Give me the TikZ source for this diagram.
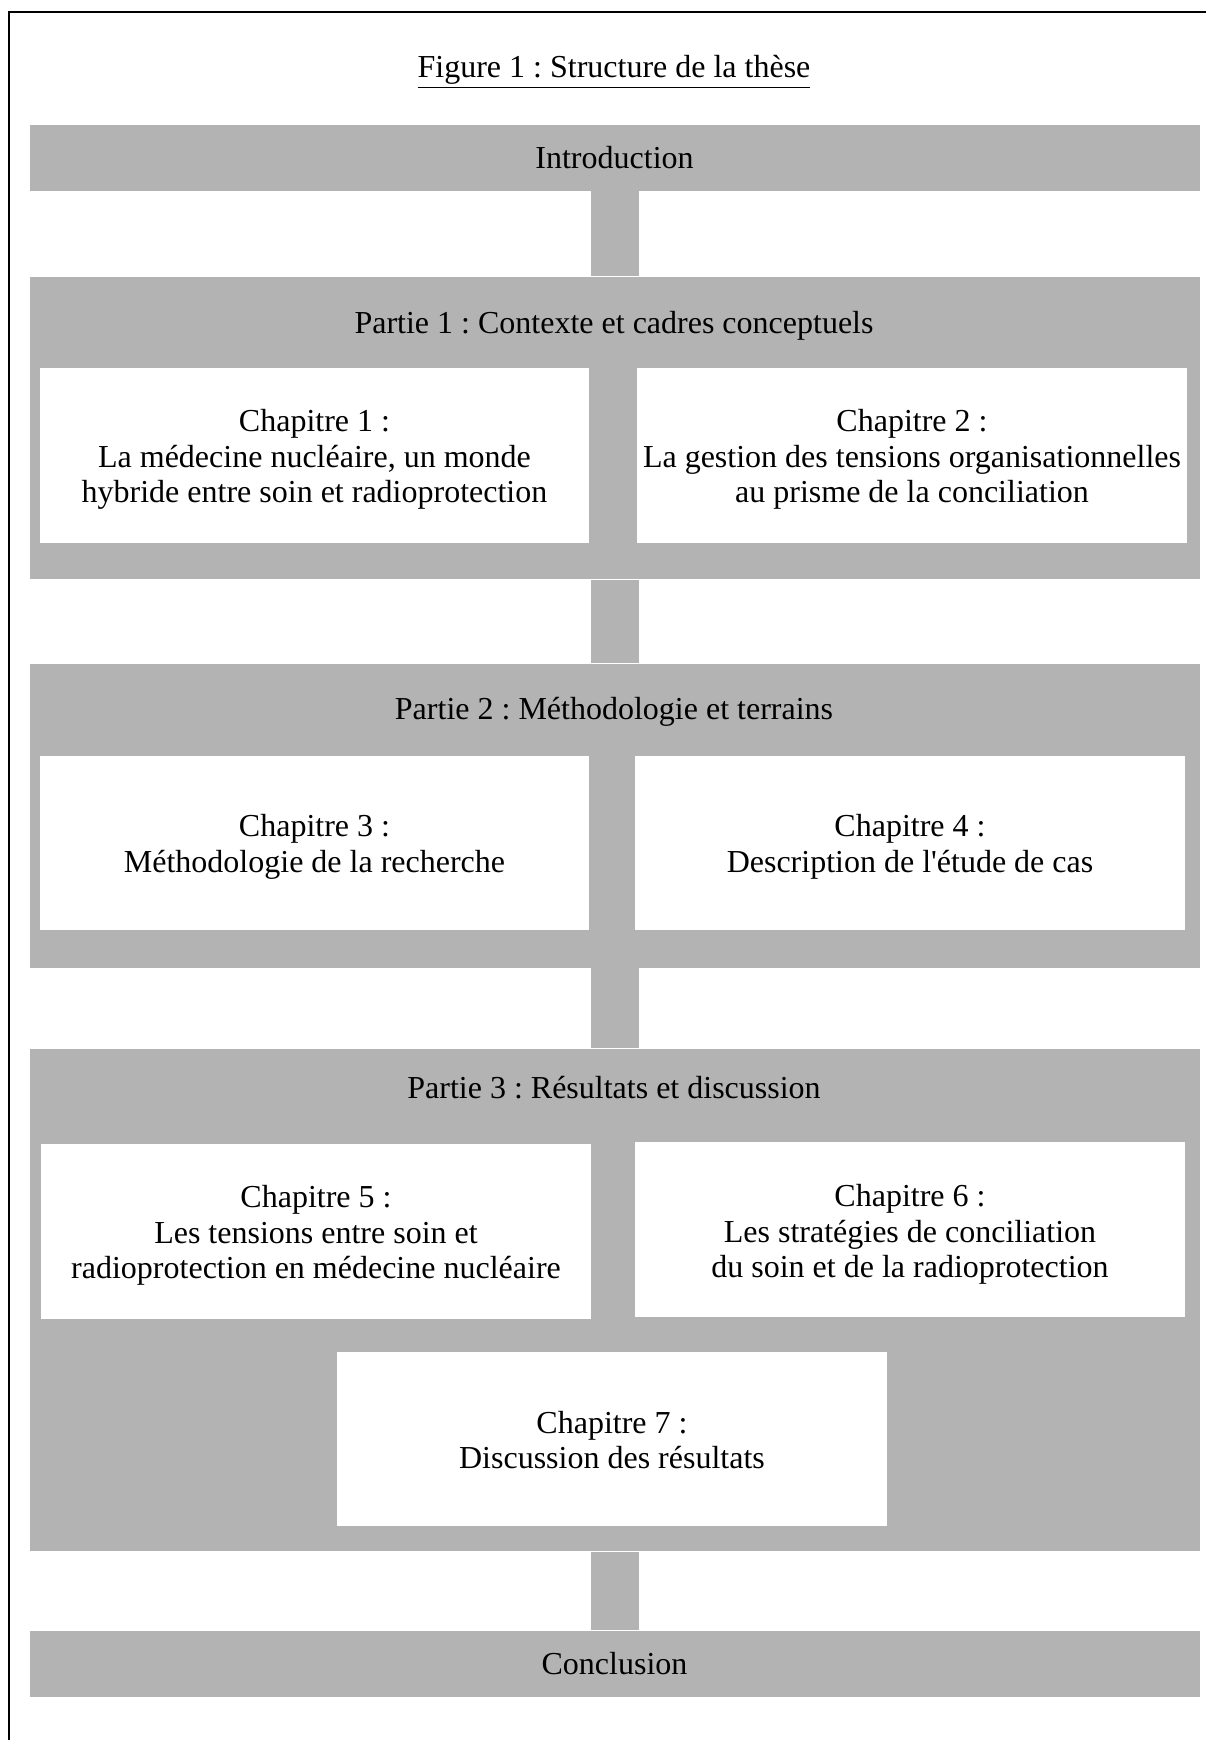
\documentclass[tikz,border=0pt]{standalone}
\usepackage{fontspec}
\setmainfont{Liberation Serif}
\usetikzlibrary{positioning}
\definecolor{bandgray}{HTML}{B3B3B3}
\frenchspacing
\newcommand{\chaplift}[1][11.3pt]{\rule{0pt}{#1}}

\begin{document}
\begin{tikzpicture}[x=0.375pt,y=-0.375pt,font=\fontsize{12}{13.4}\selectfont,
    band/.style={fill=bandgray,inner sep=0pt,minimum width=438.75pt,anchor=north west},
    chap/.style={fill=white,inner sep=0pt,minimum width=205.9pt,minimum height=65.6pt,align=center},
    link/.style={draw=bandgray,line width=18pt}]

    \useasboundingbox (0,0) rectangle (1206,1740);
    \draw[line width=0.75pt] (9,1740) -- (9,12) -- (1206,12);

    \node (title) at (614,72) {\underline{Figure 1 : Structure de la thèse}};

    % bands
    \node[band,minimum height=24.75pt] (intro) at (29,124) {Introduction};
    \node[band,minimum height=113.6pt] (p1) at (29,276) {};
    \node[band,minimum height=114pt] (p2) at (29,663) {};
    \node[band,minimum height=188.6pt] (p3) at (29,1048) {};
    \node[band,minimum height=24.75pt] (concl) at (29,1630) {Conclusion};

    \node (p1lbl) at (614,326) {Partie 1 : Contexte et cadres conceptuels};
    \node (p2lbl) at (614,712) {Partie 2 : Méthodologie et terrains};
    \node (p3lbl) at (614,1088) {Partie 3 : Résultats et discussion};

    % chapters
    \node[chap] (ch1) at (314.5,455.5) {\chaplift Chapitre 1 :\\La médecine nucléaire, un monde\\hybride entre soin et radioprotection};
    \node[chap] (ch2) at (912,455.5) {\chaplift Chapitre 2 :\\La gestion des tensions organisationnelles\\au prisme de la conciliation};
    \node[chap] (ch3) at (314.5,843) {\chaplift Chapitre 3 :\\Méthodologie de la recherche};
    \node[chap] (ch4) at (910,843) {\chaplift Chapitre 4 :\\Description de l\textquotesingle étude de cas};
    \node[chap] (ch5) at (316,1231.5) {\chaplift Chapitre 5 :\\Les tensions entre soin et\\radioprotection en médecine nucléaire};
    \node[chap] (ch6) at (910,1229.5) {\chaplift[12pt]Chapitre 6 :\\Les stratégies de conciliation\\du soin et de la radioprotection};
    \node[chap] (ch7) at (612,1439) {\chaplift[9.2pt]Chapitre 7 :\\Discussion des résultats};

    % links
    \draw[link] (intro) -- (p1);
    \draw[link] (p1) -- (p2);
    \draw[link] (p2) -- (p3);
    \draw[link] (p3) -- (concl);
\end{tikzpicture}
\end{document}
